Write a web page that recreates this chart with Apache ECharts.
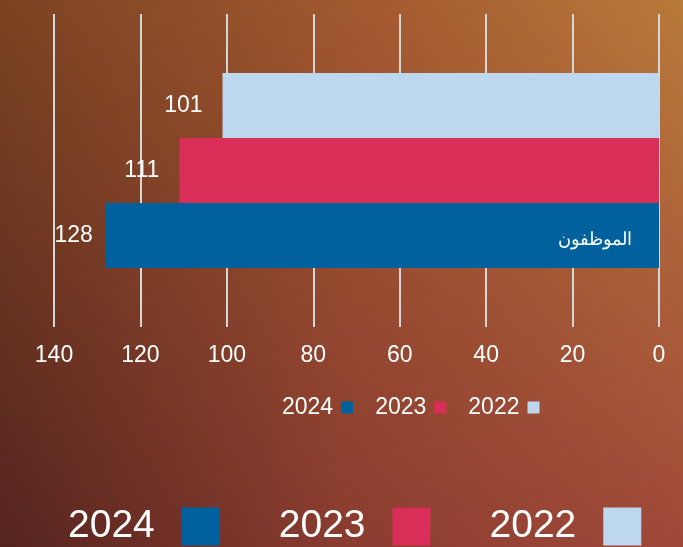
<!DOCTYPE html>
<html>
<head>
<meta charset="utf-8">
<script src="https://cdn.jsdelivr.net/npm/echarts@6/dist/echarts.min.js"></script>
<style>
  html, body { margin: 0; padding: 0; }
  #wrap { position: relative; width: 683px; height: 547px; overflow: hidden; }
  .bg { position: absolute; left: 0; top: 0; width: 683px; height: 547px; }
  #bgBottom { background: linear-gradient(to right, #55241f, #8a3c30 50%, #a0493a); }
  #bgTop {
    background: linear-gradient(to right, #7b4322, #a45a30 55%, #b97a3a);
    -webkit-mask-image: linear-gradient(to bottom, #000 0%, rgba(0,0,0,0.55) 45%, transparent 100%);
    mask-image: linear-gradient(to bottom, #000 0%, rgba(0,0,0,0.55) 45%, transparent 100%);
  }
  #chart { position: absolute; left: 0; top: 0; width: 683px; height: 547px; }
</style>
</head>
<body>
<div id="wrap">
  <div class="bg" id="bgBottom"></div>
  <div class="bg" id="bgTop"></div>
  <div id="chart"></div>
</div>
<script>
// 数据
var categories = ['الموظفون'];
var years = ['2024', '2023', '2022'];
var values2024 = [128];
var values2023 = [111];
var values2022 = [101];
var xTicks = { min: 0, max: 140, interval: 20 };

var colors = {
  '2024': '#01619e',
  '2023': '#d82e58',
  '2022': '#bdd7ee'
};

var chart = echarts.init(document.getElementById('chart'));

function makeSeries(name, data, dist) {
  return {
    name: name,
    type: 'bar',
    data: data,
    barWidth: 65,
    barGap: '0%',
    itemStyle: { color: colors[name] },
    label: {
      show: true,
      position: 'left',
      distance: dist,
      color: '#fff',
      fontSize: 23
    }
  };
}

chart.setOption({
  backgroundColor: 'transparent',
  textStyle: { fontFamily: 'Liberation Sans, Arial, sans-serif' },
  grid: { left: 54, right: 24, top: 14, bottom: 220, containLabel: false },
  legend: [
    {
      data: years,
      left: 277,
      top: 391,
      align: 'right',
      icon: 'rect',
      itemWidth: 12,
      itemHeight: 12,
      itemGap: 22,
      textStyle: { color: '#fff', fontSize: 23, padding: [0, 3, 0, 0] }
    },
    {
      data: years,
      left: 63,
      top: 502,
      align: 'right',
      icon: 'rect',
      itemWidth: 38,
      itemHeight: 38,
      itemGap: 59,
      textStyle: { color: '#fff', fontSize: 39, padding: [0, 22, 0, 0] }
    }
  ],
  xAxis: {
    type: 'value',
    inverse: true,
    min: xTicks.min,
    max: xTicks.max,
    interval: xTicks.interval,
    axisLine: { show: false },
    axisTick: { show: false },
    axisLabel: { color: '#fff', fontSize: 23, margin: 17 },
    splitLine: { show: true, lineStyle: { color: '#d6d6d6', width: 2 } }
  },
  yAxis: {
    type: 'category',
    data: categories,
    position: 'right',
    z: 10,
    axisLine: { show: false },
    axisTick: { show: false },
    axisLabel: {
      inside: true,
      margin: 27,
      color: '#fff',
      fontSize: 18,
      lineHeight: 20,
      // push the name down into the lowest bar
      formatter: function (v) { return '\n\n\n\n\n\n\n' + v; }
    }
  },
  series: [
    makeSeries('2022', values2022, 20),
    makeSeries('2023', values2023, 20),
    makeSeries('2024', values2024, 13)
  ]
});
</script>
</body>
</html>
